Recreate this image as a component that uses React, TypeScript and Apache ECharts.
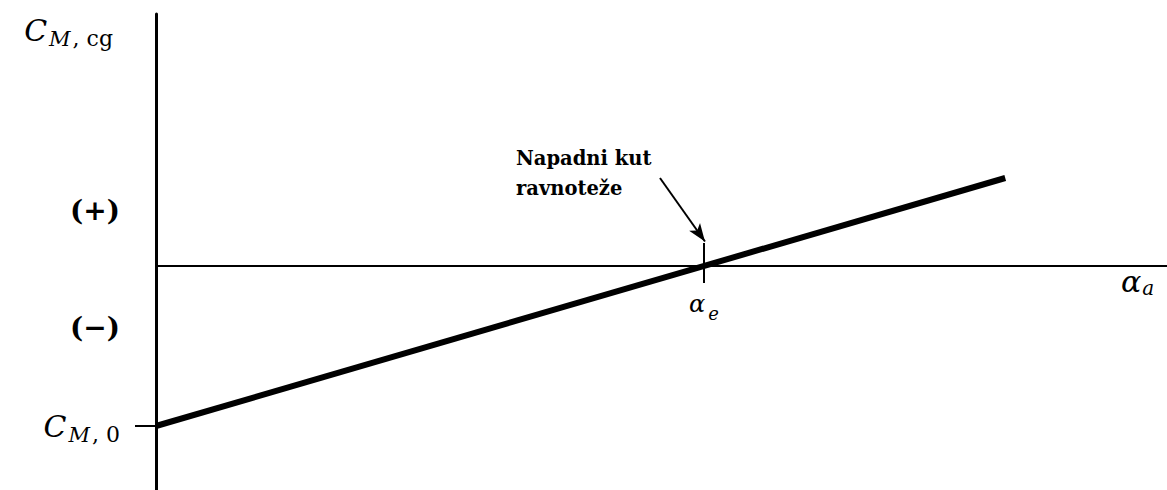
import React, { useEffect, useRef } from "react";
import * as echarts from "echarts";

// Data (dimensionless)
const alphaValues = [0, 84.0];
const cmValues = [-1.6, 0.88];
const alphaE = 54.2;
const cm0 = -1.6;
const yLabelValues = [0.56, -0.61, cm0];
const yLabelTexts = ["{pm|(+)}", "{pm|(−)}", "{c|C}{m|M}{r|, 0}"];
const eqTickTop = 0.23;
const eqTickBottom = -0.17;
const eqLabelY = -0.38;
const arrowStart = [49.85, 0.88];
const arrowEnd = [54.3, 0.245];
const annotationLines = ["Napadni kut", "ravnoteže"];

const dserif = '"DejaVu Serif", serif';
const richSub = {
  c: { fontFamily: dserif, fontStyle: "italic", fontSize: 30, lineHeight: 30, verticalAlign: "top", color: "#000" },
  m: { fontFamily: dserif, fontStyle: "italic", fontSize: 21, lineHeight: 21, verticalAlign: "top", padding: [13, 0, 0, 2], color: "#000" },
  r: { fontFamily: dserif, fontSize: 22, lineHeight: 22, verticalAlign: "top", padding: [12, 0, 0, 2], color: "#000" },
  pm: { fontFamily: dserif, fontWeight: "bold", fontSize: 28, lineHeight: 32, color: "#000" },
  a: { fontFamily: dserif, fontStyle: "italic", fontSize: 30, lineHeight: 30, verticalAlign: "top", color: "#000" },
  s: { fontFamily: dserif, fontStyle: "italic", fontSize: 20, lineHeight: 20, verticalAlign: "top", padding: [12, 0, 0, 1], color: "#000" },
  ae: { fontFamily: dserif, fontStyle: "italic", fontSize: 24, lineHeight: 24, verticalAlign: "top", color: "#000" },
  se: { fontFamily: dserif, fontStyle: "italic", fontSize: 18, lineHeight: 18, verticalAlign: "top", padding: [12, 0, 0, 3], color: "#000" },
};

export default function App() {
  const ref = useRef<HTMLDivElement>(null);
  useEffect(() => {
    document.body.style.margin = "0";
    const chart = echarts.init(ref.current!, null, { renderer: "svg" });
    const lineData = alphaValues.map((a, i) => [a, cmValues[i]]);
    chart.setOption({
      animation: false,
      backgroundColor: "#fff",
      grid: { left: 156, right: 0, top: 14, bottom: 0, containLabel: false, outerBoundsMode: "none" },
      xAxis: {
        type: "value",
        min: 0,
        max: 100,
        splitLine: { show: false },
        axisTick: { show: false },
        axisLabel: { show: false },
        axisLine: { show: true, onZero: true, lineStyle: { color: "#000", width: 2 } },
        name: "{a|α}{s|a}",
        nameLocation: "end",
        nameGap: -46,
        nameTextStyle: { align: "left", verticalAlign: "top", rich: richSub },
      },
      yAxis: {
        type: "value",
        min: -2.24,
        max: 2.52,
        splitLine: { show: false },
        axisLine: { show: true, onZero: false, lineStyle: { color: "#000", width: 3 } },
        axisTick: { show: true, customValues: [cm0], length: 21, lineStyle: { color: "#000", width: 2 } },
        axisLabel: {
          customValues: yLabelValues,
          margin: 36,
          formatter: (v: number) => {
            const i = yLabelValues.findIndex((x) => Math.abs(x - v) < 1e-6);
            return i >= 0 ? yLabelTexts[i] : "";
          },
          rich: richSub,
        },
        name: "{c|C}{m|M}{r|, cg}",
        nameLocation: "end",
        nameGap: -16,
        nameTextStyle: { align: "right", verticalAlign: "middle", padding: [0, 43, 0, 0], rich: richSub },
      },
      graphic: [
        {
          type: "text",
          x: 516,
          y: 158,
          style: { text: annotationLines[0], fill: "#000", font: 'bold 19.5px "DejaVu Serif"', verticalAlign: "middle" },
        },
        {
          type: "text",
          x: 516,
          y: 188,
          style: { text: annotationLines[1], fill: "#000", font: 'bold 19.5px "DejaVu Serif"', verticalAlign: "middle" },
        },
      ],
      series: [
        {
          type: "line",
          data: lineData,
          symbol: "none",
          lineStyle: { color: "#000", width: 6 },
          markPoint: {
            silent: true,
            symbol: "circle",
            symbolSize: 1,
            itemStyle: { color: "rgba(0,0,0,0)" },
            label: {
              show: true,
              position: "inside",
              formatter: "{ae|α}{se|e}",
              rich: richSub,
            },
            data: [{ coord: [alphaE, eqLabelY] }],
          },
          markLine: {
            silent: true,
            symbol: ["none", "none"],
            label: { show: false },
            lineStyle: { color: "#000", width: 2, type: "solid" },
            data: [
              [{ coord: [alphaE, eqTickTop] }, { coord: [alphaE, eqTickBottom] }],
              [
                { coord: arrowStart, symbol: "none" },
                { coord: arrowEnd, symbol: "arrow", symbolSize: [10, 18] },
              ],
            ],
          },
        },
      ],
    });
    return () => chart.dispose();
  }, []);
  return <div ref={ref} style={{ width: 1167, height: 490 }} />;
}
